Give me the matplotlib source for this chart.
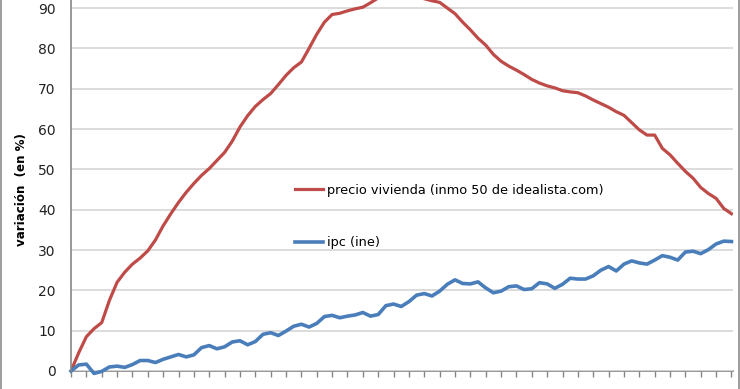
import numpy as np
import matplotlib
matplotlib.use("Agg")
import matplotlib.pyplot as plt
from matplotlib.lines import Line2D

# variación acumulada (%)
precio_vivienda = [
    0, 4.5, 8.5, 10.5, 12, 17.5, 22, 24.5, 26.5, 28,
    29.8, 32.5, 36, 39, 41.8, 44.3, 46.5, 48.5, 50.2, 52.2,
    54.2, 57, 60.5, 63.3, 65.6, 67.3, 68.8, 71, 73.3, 75.2,
    76.6, 80, 83.5, 86.5, 88.4, 88.7, 89.3, 89.8, 90.2, 91.3,
    92.5, 92.5, 92.5, 92.5, 92.5, 92.5, 92.3, 91.8, 91.4, 90,
    88.6, 86.5, 84.6, 82.5, 80.8, 78.5, 76.8, 75.6, 74.6, 73.5,
    72.3, 71.4, 70.7, 70.2, 69.5, 69.2, 69.0, 68.2, 67.2, 66.3,
    65.4, 64.3, 63.4, 61.6, 59.8, 58.5, 58.5, 55.2, 53.6, 51.5,
    49.5, 47.8, 45.5, 44, 42.8, 40.3, 39,
]
ipc = [
    0, 1.5, 1.7, -0.6, -0.1, 1.0, 1.2, 0.9, 1.6, 2.6,
    2.6, 2.1, 2.9, 3.5, 4.1, 3.5, 4.0, 5.8, 6.3, 5.5,
    6.0, 7.2, 7.5, 6.5, 7.3, 9.1, 9.5, 8.8, 9.9, 11.1,
    11.6, 10.9, 11.8, 13.5, 13.8, 13.2, 13.6, 13.9, 14.5, 13.6,
    14.0, 16.2, 16.6, 16.0, 17.2, 18.8, 19.2, 18.6, 19.8, 21.5,
    22.6, 21.7, 21.6, 22.1, 20.6, 19.4, 19.8, 20.9, 21.1, 20.2,
    20.4, 21.9, 21.6, 20.5, 21.5, 23.0, 22.8, 22.8, 23.6, 25.0,
    25.9, 24.8, 26.5, 27.3, 26.8, 26.5, 27.5, 28.6, 28.2, 27.5,
    29.5, 29.7, 29.1, 30.1, 31.5, 32.2, 32.1,
]
etiquetas = ["precio vivienda (inmo 50 de idealista.com)", "ipc (ine)"]
y_ticks = [0, 10, 20, 30, 40, 50, 60, 70, 80, 90]

W, H = 740, 389
fig = plt.figure(figsize=(W / 100, H / 100), dpi=100)

# the chart is cropped at the top: axes runs past the image edge
x0, x1 = 71, 733
y0 = 371
px10 = 40.33
ax = fig.add_axes([x0 / W, (H - y0) / H, (x1 - x0) / W, 10 * px10 / H])

x = np.arange(len(precio_vivienda))
ax.plot(x, precio_vivienda, color="#BE4B48", lw=2.3, label=etiquetas[0],
        solid_joinstyle="round")
ax.plot(x, ipc, color="#4A7EBB", lw=2.6, label=etiquetas[1],
        solid_joinstyle="round", clip_on=False)

ax.set_xlim(0, 86.2)
ax.set_ylim(0, 100)
ax.set_yticks(y_ticks)
ax.set_xticks(np.arange(0, 87, 2))
ax.set_xticklabels([])
ax.tick_params(axis="y", length=0, pad=11, labelsize=10, labelcolor="#222222")
ax.tick_params(axis="x", length=4, width=1, color="#868686", direction="out")
ax.yaxis.grid(True, color="#d9d9d9", lw=1.3)
ax.set_axisbelow(True)
for s in ["top", "right"]:
    ax.spines[s].set_visible(False)
ax.spines["left"].set_color("#868686")
ax.spines["bottom"].set_color("#868686")
ax.spines["left"].set_linewidth(1.2)
ax.spines["bottom"].set_linewidth(1.2)
ax.spines["bottom"].set_zorder(0.5)

fig.text(22 / W, 1 - 190 / H, "variación  (en %)", rotation=90,
         fontsize=8.6, fontweight="bold", ha="center", va="center")

ax.legend(loc="upper left", bbox_to_anchor=(295 / W, 1 - 184 / H),
          bbox_transform=fig.transFigure, frameon=False, fontsize=9.3,
          handlelength=2.15, handletextpad=0.3, labelspacing=3.05,
          borderpad=0, borderaxespad=0)

# chart frame (only the side edges are visible)
fig.add_artist(Line2D([1 / W, 1 / W], [0, 1], color="#8c8c8c", lw=1.2))
fig.add_artist(Line2D([738.5 / W, 738.5 / W], [0, 1], color="#8c8c8c", lw=1.2))

fig.savefig("out.png", dpi=100)
